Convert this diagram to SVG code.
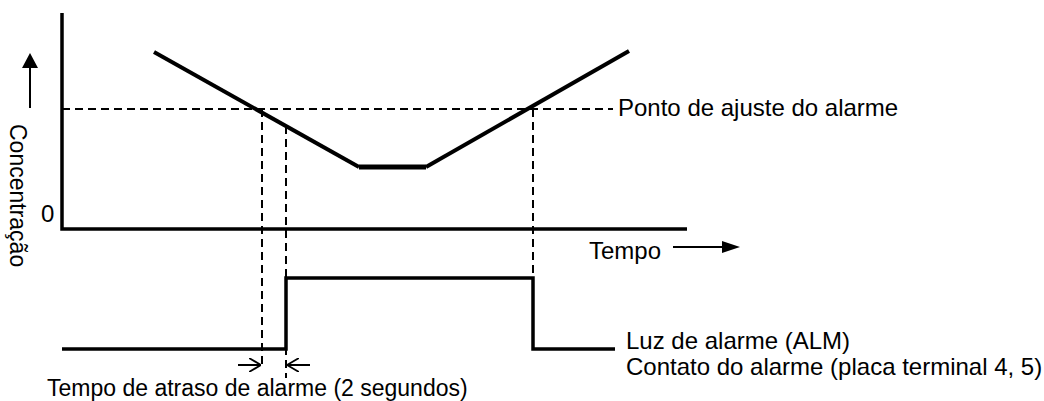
<svg xmlns="http://www.w3.org/2000/svg" width="1044" height="401" viewBox="0 0 1044 401">
<style>
text{font-family:"Liberation Sans",Arial,sans-serif;font-size:24px;fill:#000}
.axis{stroke:#000;stroke-width:3.5;fill:none}
.curve{stroke:#000;stroke-width:4;fill:none;stroke-linejoin:miter}
.dash{stroke:#000;stroke-width:2;fill:none;stroke-dasharray:8,5}
.sig{stroke:#000;stroke-width:3.5;fill:none}
.thin{stroke:#000;stroke-width:2;fill:none}
</style>
<defs>
<marker id="open" viewBox="0 0 12 14" refX="12" refY="7" markerWidth="12" markerHeight="14" markerUnits="userSpaceOnUse" orient="auto">
<path d="M0,0 L12,7 L0,14" fill="none" stroke="#000" stroke-width="1.8"/>
</marker>
</defs>
<g id="axes">
<polyline class="axis" points="62,13 62,229 687,229"/>
<text x="41" y="222">0</text>
</g>
<g id="y-label">
<line class="thin" x1="30" y1="108" x2="30" y2="68"/>
<path d="M22,68 L38,68 L30,53 z" fill="#000"/>
<text transform="translate(10,124) rotate(90)" x="0" y="0" style="font-size:23px">Concentração</text>
</g>
<g id="x-label">
<text x="589" y="259">Tempo</text>
<line class="thin" x1="673" y1="247" x2="724" y2="247"/>
<path d="M722,241 L740,247 L722,253 z" fill="#000"/>
</g>
<g id="setpoint">
<line class="dash" x1="62" y1="109" x2="613" y2="109"/>
<text x="618" y="116">Ponto de ajuste do alarme</text>
</g>
<g id="concentration-curve">
<polyline class="curve" points="154,52 359,167"/>
<line x1="359" y1="167" x2="426" y2="167" stroke="#000" stroke-width="5"/>
<polyline class="curve" points="426,167 629,51"/>
</g>
<g id="connectors">
<line class="dash" x1="262" y1="109" x2="262" y2="368"/>
<line class="dash" x1="286" y1="126" x2="286" y2="378"/>
<line class="dash" x1="533" y1="109" x2="533" y2="278"/>
<line class="thin" x1="238" y1="365" x2="261" y2="365" marker-end="url(#open)" stroke-width="1.8"/>
<line class="thin" x1="310" y1="365" x2="287" y2="365" marker-end="url(#open)" stroke-width="1.8"/>
</g>
<g id="alarm-signal">
<polyline class="sig" points="62,349 286,349 286,278 533,278 533,349 615,349"/>
<text x="626" y="349">Luz de alarme (ALM)</text>
<text x="626" y="375">Contato do alarme (placa terminal 4, 5)</text>
</g>
<g id="delay-label">
<text x="47" y="396" style="font-size:23px">Tempo de atraso de alarme (2 segundos)</text>
</g>
</svg>
